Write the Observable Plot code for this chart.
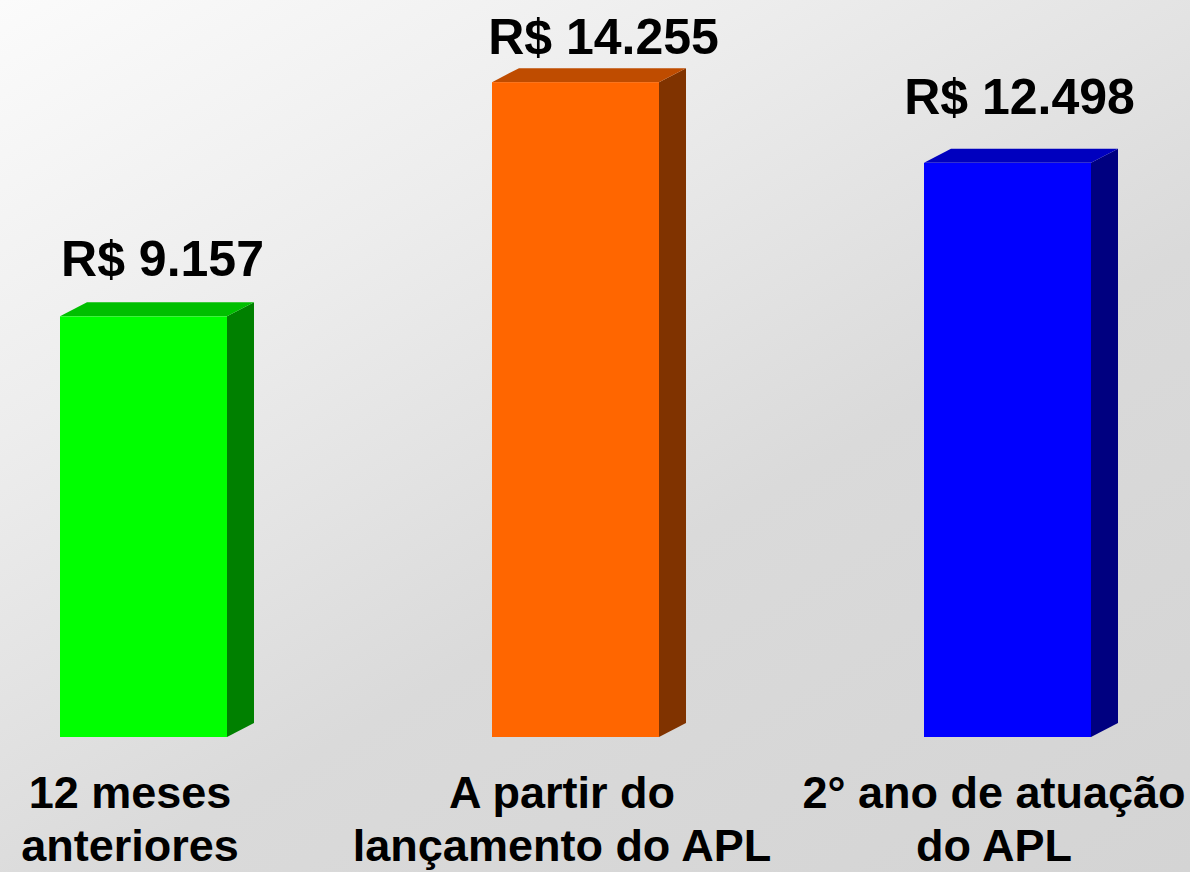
<!DOCTYPE html>
<html>
<head>
<meta charset="utf-8">
<script src="https://cdn.jsdelivr.net/npm/d3@7"></script>
<script src="https://cdn.jsdelivr.net/npm/@observablehq/plot@0.6"></script>
<style>
  html, body { margin: 0; padding: 0; }
  body { width: 1190px; height: 872px; overflow: hidden;
         background: linear-gradient(150deg, #fbfbfb 0%, #ededed 28%, #e3e3e3 45%, #dadada 60%, #d4d4d4 100%); }
  #chart svg { display: block; }
</style>
</head>
<body>
<div id="chart"></div>
<script>
// ---- data ----
const categories = ["12 meses\nanteriores", "A partir do\nlançamento do APL", "2° ano de atuação\ndo APL"];
const values = [9157, 14255, 12498];

// ---- styles ----
const frontColors = ["#00ff00", "#ff6600", "#0000ff"];
const topColors   = ["#00bf00", "#bf4c00", "#0000bf"];
const sideColors  = ["#008000", "#803300", "#000080"];
const depthX = 27, depthY = -14;
const labelDx = [18.5, 27.5, 11.5];
const labelDy = [-57.3, -45.1, -65.8];

const data = categories.map((c, i) => ({cat: c, value: values[i], i}));
const fmt = v => "R$ " + v.toLocaleString("pt-BR");
const font = "'Liberation Sans', Arial, sans-serif";

function bars3d(index, scales, vals, dims, ctx, next) {
  const g = next(index, scales, vals, dims, ctx);
  const rects = Array.from(g.querySelectorAll("rect"));
  const ns = "http://www.w3.org/2000/svg";
  rects.forEach((r, k) => {
    const d = data[index[k]];
    const x = +r.getAttribute("x"), y = +r.getAttribute("y");
    const w = +r.getAttribute("width"), h = +r.getAttribute("height");
    const top = document.createElementNS(ns, "polygon");
    top.setAttribute("points", [[x, y], [x + depthX, y + depthY], [x + w + depthX, y + depthY], [x + w, y]].map(p => p.join(",")).join(" "));
    top.setAttribute("fill", topColors[d.i]);
    const side = document.createElementNS(ns, "polygon");
    side.setAttribute("points", [[x + w, y], [x + w + depthX, y + depthY], [x + w + depthX, y + h + depthY], [x + w, y + h]].map(p => p.join(",")).join(" "));
    side.setAttribute("fill", sideColors[d.i]);
    r.parentNode.insertBefore(side, r);
    r.parentNode.insertBefore(top, r);
  });
  return g;
}

const valueLabels = data.map((d, k) =>
  Plot.text([d], {
    x: "cat", y: "value", text: r => fmt(r.value),
    dx: labelDx[k], dy: labelDy[k],
    fontSize: 50, fontWeight: "bold", fill: "#000", fontFamily: font
  })
);

const chart = Plot.plot({
  width: 1190,
  height: 872,
  style: {background: "transparent", fontFamily: font, overflow: "visible"},
  x: {domain: categories, range: [59, 1091], paddingInner: 0.6139, paddingOuter: 0, axis: null},
  y: {domain: [0, 16000], range: [737, 2], axis: null},
  color: {domain: categories, range: frontColors},
  marks: [
    Plot.barY(data, {x: "cat", y: "value", fill: "cat", render: bars3d}),
    ...valueLabels,
    Plot.text(data, {
      x: "cat", y: 0, text: "cat", lineAnchor: "top", lineHeight: 1.17,
      dx: -14, dy: 33, fontSize: 45, fontWeight: "bold", fill: "#000", fontFamily: font
    })
  ]
});
document.getElementById("chart").appendChild(chart);
</script>
</body>
</html>
